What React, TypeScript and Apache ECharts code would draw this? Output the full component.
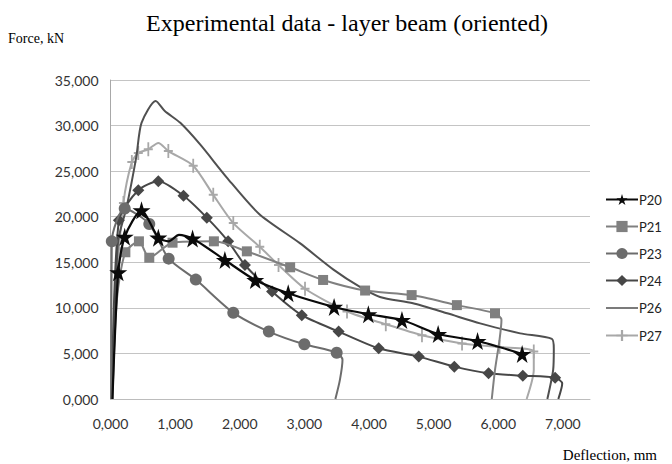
import React, { useEffect, useRef } from "react";
import * as echarts from "echarts";

// [deflection (mm), force (kN), marker 1/0]
const P20 = [
  [0.03, 0, 0], [0.12, 13.9, 1], [0.22, 17.8, 1], [0.48, 20.7, 1], [0.74, 17.7, 1],
  [0.9, 17.3, 0], [1.06, 18.0, 0], [1.27, 17.6, 1], [1.77, 15.25, 1], [2.24, 13.05, 1],
  [2.75, 11.6, 1], [3.46, 10.1, 1], [3.99, 9.3, 1], [4.51, 8.67, 1], [5.07, 7.13, 1],
  [5.68, 6.36, 1], [6.37, 4.94, 1],
];
const P21 = [
  [0.03, 0, 0], [0.1, 11.0, 0], [0.23, 16.1, 1], [0.44, 17.3, 1], [0.6, 15.5, 1],
  [0.96, 17.15, 1], [1.6, 17.3, 1], [2.11, 16.2, 1], [2.78, 14.45, 1], [3.29, 13.06, 1],
  [3.94, 11.9, 1], [4.66, 11.4, 1], [5.36, 10.3, 1], [5.95, 9.4, 1], [6.05, 8.7, 0],
  [6.02, 6.5, 0], [5.95, 3.2, 0], [5.9, 0, 0],
];
const P23 = [
  [0.01, 0, 0], [0.02, 17.3, 1], [0.22, 20.9, 1], [0.6, 19.2, 1], [0.9, 15.4, 1],
  [1.32, 13.1, 1], [1.9, 9.47, 1], [2.45, 7.4, 1], [3.0, 6.0, 1], [3.5, 5.08, 1],
  [3.59, 4.3, 0], [3.55, 2.1, 0], [3.48, 0, 0],
];
const P24 = [
  [0.02, 0, 0], [0.13, 19.6, 1], [0.43, 22.9, 1], [0.74, 23.9, 1], [1.13, 22.3, 1],
  [1.49, 19.9, 1], [1.82, 17.3, 1], [2.08, 14.7, 1], [2.5, 11.8, 1], [2.96, 9.2, 1],
  [3.53, 7.4, 1], [4.15, 5.56, 1], [4.77, 4.65, 1], [5.32, 3.55, 1], [5.85, 2.82, 1],
  [6.38, 2.56, 1], [6.88, 2.34, 1], [6.99, 1.7, 0], [6.93, 0, 0],
];
const P26 = [
  [0.02, 0, 0], [0.08, 11.0, 0], [0.12, 17.4, 0], [0.25, 21.1, 0], [0.4, 26.6, 0],
  [0.48, 30.3, 0], [0.7, 32.7, 0], [0.84, 31.6, 0], [1.08, 30.3, 0], [1.39, 27.9, 0],
  [1.8, 24.3, 0], [2.3, 20.3, 0], [2.93, 17.1, 0], [3.45, 14.2, 0], [3.86, 12.3, 0],
  [4.17, 11.2, 0], [4.68, 10.5, 0], [5.21, 9.4, 0], [5.72, 8.3, 0], [6.34, 7.2, 0],
  [6.83, 6.6, 0], [6.86, 5.5, 0], [6.85, 3.2, 0], [6.76, 0, 0],
];
const P27 = [
  [0.03, 0, 0], [0.09, 12.0, 0], [0.2, 21.5, 1], [0.33, 26.0, 1], [0.43, 27.0, 1],
  [0.585, 27.4, 1], [0.74, 28.1, 0], [0.895, 27.2, 1], [1.28, 25.6, 1], [1.59, 22.4, 1],
  [1.9, 19.3, 1], [2.31, 16.7, 1], [2.6, 14.7, 1], [3.01, 12.1, 1], [3.66, 9.6, 1],
  [4.26, 8.2, 1], [4.82, 7.0, 1], [5.44, 6.1, 1], [6.02, 5.7, 1], [6.55, 5.2, 1],
  [6.55, 3.2, 0], [6.44, 0, 0],
];

const SERIES_NAMES = ["P20", "P21", "P23", "P24", "P26", "P27"];
const TITLE = "Experimental data - layer beam (oriented)";
const Y_TITLE = "Force, kN";
const X_TITLE = "Deflection, mm";

const STAR =
  "path://M50,0 L61,35 L98,35 L68,57 L79,91 L50,70 L21,91 L32,57 L2,35 L39,35 Z";
const PLUS = "path://M4,0 H6 V6 H10 V8 H6 V14 H4 V8 H0 V6 H4 Z";
const LINE_ICON =
  "path://M0,0 L0.01,0 L0,0.01 Z M0,6.2 H32 V7.8 H0 Z M0,14 L0.01,14 L0,13.99 Z";

const fmt = (v: number) => v.toFixed(3).replace(".", ",");

function toData(pts: number[][]) {
  return pts.map(([x, y, m]) =>
    m ? { value: [x, y] } : { value: [x, y], symbol: "none" }
  );
}

export default function App() {
  const ref = useRef<HTMLDivElement>(null);
  useEffect(() => {
    if (!ref.current) return;
    const chart = echarts.init(ref.current, undefined, { renderer: "svg" });
    const sets = [P20, P21, P23, P24, P26, P27];
    const styles: any[] = [
      { color: "#0a0a0a", symbol: STAR, size: 18, width: 2.2 },
      { color: "#808080", symbol: "rect", size: 10, width: 2 },
      { color: "#6c6c6c", symbol: "circle", size: 12, width: 2 },
      { color: "#474747", symbol: "diamond", size: 12, width: 2 },
      { color: "#505050", symbol: "none", size: 0, width: 2 },
      { color: "#a8a8a8", symbol: PLUS, size: [9, 14], width: 2 },
    ];
    const series = sets.map((pts, i) => ({
      name: SERIES_NAMES[i],
      type: "line",
      data: toData(pts),
      smooth: 0.25,
      symbol: styles[i].symbol,
      symbolSize: styles[i].size,
      showSymbol: styles[i].symbol !== "none",
      lineStyle: { color: styles[i].color, width: styles[i].width },
      itemStyle: { color: styles[i].color },
      z: 10 - i,
    }));
    chart.setOption({
      animation: false,
      grid: { left: 110.5, right: 82, top: 80, bottom: 65, containLabel: false },
      xAxis: {
        type: "value",
        min: 0,
        max: 7.42,
        interval: 1,
        splitLine: { show: false },
        axisTick: { show: false },
        axisLine: { show: true, lineStyle: { color: "#bcbcbc", width: 1 } },
        axisLabel: {
          showMaxLabel: false,
          formatter: (v: number) => fmt(v),
          margin: 17,
          fontFamily: "Lato",
          fontSize: 14,
          color: "#333",
        },
      },
      yAxis: {
        type: "value",
        min: 0,
        max: 35,
        interval: 5,
        splitLine: { show: true, lineStyle: { color: "#c4c4c4", width: 1 } },
        axisTick: { show: false },
        axisLine: { show: true, lineStyle: { color: "#a8a8a8", width: 1 } },
        axisLabel: {
          formatter: (v: number) => fmt(v),
          margin: 12,
          fontFamily: "Lato",
          fontSize: 14,
          color: "#333",
        },
      },
      legend: {
        orient: "vertical",
        left: 600,
        top: 188,
        itemWidth: 32,
        itemHeight: 14,
        itemGap: 14,
        textStyle: { fontFamily: "Lato", fontSize: 13, color: "#222", padding: [0, 0, 0, -4] },
        data: SERIES_NAMES.map((n) =>
          n === "P26" ? { name: n, icon: LINE_ICON } : { name: n }
        ),
      },
      graphic: [
        {
          type: "text",
          x: 347,
          y: 23,
          style: {
            text: TITLE,
            font: "24px 'Liberation Serif'",
            fill: "#000",
            textAlign: "center",
            textVerticalAlign: "middle",
          },
        },
        {
          type: "text",
          x: 8,
          y: 38,
          style: {
            text: Y_TITLE,
            font: "14px 'Liberation Serif'",
            fill: "#000",
            textAlign: "left",
            textVerticalAlign: "middle",
          },
        },
        {
          type: "text",
          x: 657,
          y: 455,
          style: {
            text: X_TITLE,
            font: "15px 'Liberation Serif'",
            fill: "#000",
            textAlign: "right",
            textVerticalAlign: "middle",
          },
        },
      ],
      series,
    });
    return () => chart.dispose();
  }, []);
  return (
    <div
      ref={ref}
      style={{ width: 672, height: 464, position: "absolute", left: 0, top: 0, background: "#fff" }}
    />
  );
}
